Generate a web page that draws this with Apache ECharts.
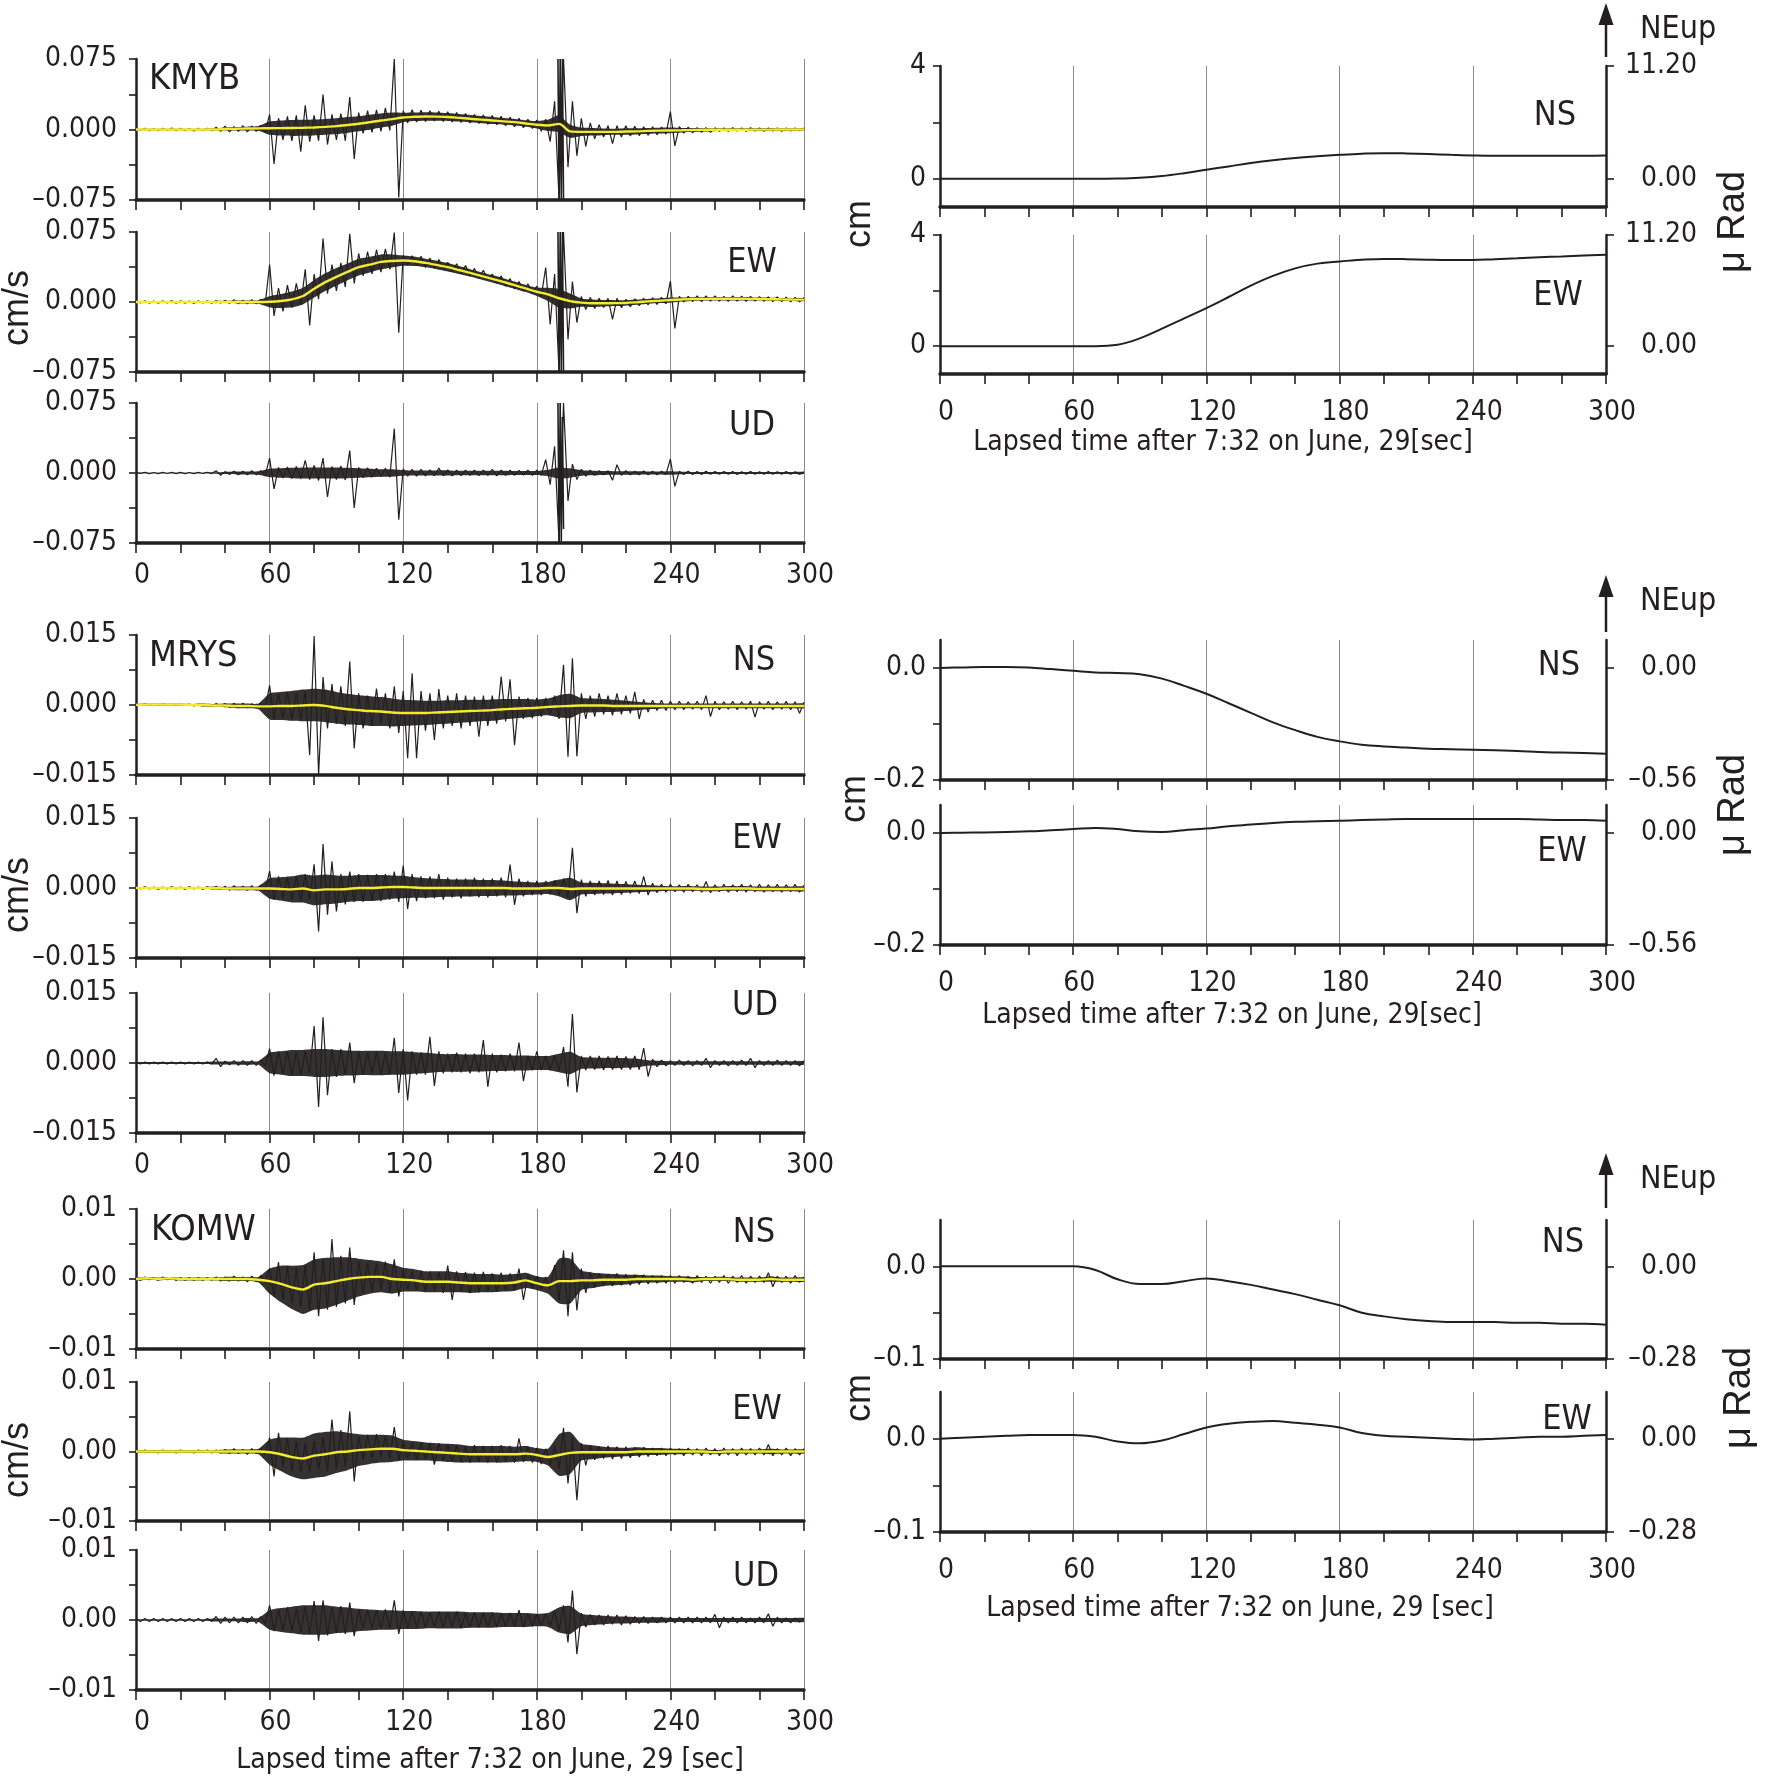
<!DOCTYPE html>
<html><head><meta charset="utf-8">
<script src="https://cdn.jsdelivr.net/npm/echarts/dist/echarts.min.js"></script>
<style>html,body{margin:0;padding:0;background:#fff}#c{width:1773px;height:1778px}</style>
</head><body><div id="c"></div><script>
// ---------- DATA ----------
// Velocity traces: values in 1e-4 cm/s, sampled every 2 s from 0 to 300 s
const UNIT = 1e-4;
const KMYB_NS_V = [12,-10,14,-12,10,-14,12,-10,15,-12,
12,-12,10,-15,14,-10,12,-14,25,-20,
35,-25,30,-20,40,-25,35,-20,45,-25,
160,-367,120,-110,140,-120,150,-235,257,-130,
150,-120,371,-160,160,-110,170,-120,345,-314,
180,-40,200,-30,210,-20,230,-10,750,-724,
200,70,210,80,205,85,200,90,195,85,
190,80,180,75,170,70,160,65,155,55,
150,50,140,40,130,30,120,20,110,10,
100,-20,110,-130,300,-750,750,-400,300,-280,
120,-180,70,-100,50,-80,40,-150,40,-80,
40,-70,35,-65,30,-60,30,-55,25,-50,
190,-175,30,-40,25,-35,20,-30,20,-30,
18,-20,15,-18,18,-15,15,-20,18,-15,
16,-18,15,-15,16,-18,15,-15,16,-14,
15];
const KMYB_EW_V = [12,-10,14,-12,10,-14,12,-10,15,-12,
12,-12,10,-15,14,-10,12,-14,15,-12,
20,-15,25,-20,20,-18,25,-20,30,-25,
400,-150,150,-100,180,-60,200,-30,350,-250,
300,30,680,90,400,120,420,160,730,200,
520,280,540,300,560,320,570,350,745,-330,
500,395,495,390,490,370,470,360,455,350,
425,325,410,305,390,280,360,255,340,235,
300,200,280,170,250,140,220,115,195,95,
170,60,370,-240,300,-750,750,-400,220,-220,
60,-80,50,-70,40,-60,40,-185,40,-60,
30,-50,35,-40,40,-30,45,-25,50,-20,
224,-284,60,0,60,5,65,5,65,10,
65,10,60,8,65,10,62,8,60,10,
58,8,55,5,55,5,52,3,50,2,
48];
const KMYB_UD_V = [6,-5,7,-6,5,-7,6,-5,7,-6,
6,-6,5,-7,7,-5,6,-6,25,-25,
15,-15,20,-18,20,-20,25,-20,25,-25,
160,-171,60,-55,65,-60,70,-60,135,-70,
80,-80,160,-257,70,-70,75,-75,240,-375,
60,-50,55,-45,50,-40,50,-45,475,-500,
45,-35,40,-35,40,-30,35,-30,54,-30,
35,-30,30,-28,30,-25,30,-28,30,-25,
40,-30,30,-25,30,-25,28,-22,30,-25,
30,-25,143,-125,285,-750,750,-300,96,-71,
40,-35,30,-25,25,-20,25,-78,89,-25,
25,-20,20,-20,22,-18,20,-18,20,-15,
150,-143,20,-15,18,-15,15,-15,18,-14,
15,-14,15,-12,16,-15,14,-12,15,-14,
14,-12,15,-14,13,-12,15,-12,14,-13,
12];
// saturated burst at KMYB around 189-192 s (every 0.5 s), 1e-4 cm/s
const T_BURST = [189.5,190,190.5,191,191.5,192];
const KMYB_NS_BURST = [750,-750,750,-750,750,-750];
const KMYB_EW_BURST = [750,-750,750,-750,750,-750];
const KMYB_UD_BURST = [750,-750,750,-750,600,-600];
const MRYS_NS_V = [2,-1,3,0,2,-1,3,0,2,-1,
2,-1,2,-2,2,-2,1,-3,3,-3,
3,-5,4,-6,4,-6,3,-7,4,-7,
42,-30,25,-28,27,-30,25,-32,30,-107,
148,-150,60,-50,45,-40,40,-45,93,-93,
25,-50,20,-45,35,-40,25,-50,40,-60,
30,-114,68,-114,30,-55,25,-75,34,-50,
20,-45,25,-50,20,-45,18,-68,20,-45,
20,-40,61,-35,55,-86,18,-30,15,-28,
15,-25,15,-20,20,-30,86,-111,100,-110,
25,-30,20,-25,25,-20,20,-22,25,-20,
20,-18,28,-30,12,-15,10,-12,10,-12,
8,-10,8,-10,7,-9,8,-10,20,-25,
8,-10,7,-9,8,-10,7,-9,8,-26,
7,-9,8,-10,7,-9,8,-10,7,-18,
6];
const MRYS_EW_V = [2,-2,3,-2,2,-3,2,-2,3,-2,
2,-3,3,-2,2,-3,3,-2,4,-3,
4,-5,5,-4,4,-5,5,-5,6,-6,
36,-25,25,-22,22,-25,25,-28,30,-25,
51,-93,94,-57,57,-50,30,-35,35,-30,
30,-30,28,-25,30,-28,30,-25,35,-30,
48,-45,30,-28,25,-22,25,-22,30,-25,
22,-20,20,-22,20,-18,22,-20,20,-20,
20,-18,22,-20,50,-36,20,-18,15,-15,
15,-15,15,-14,16,-15,20,-20,86,-54,
18,-18,15,-15,15,-14,16,-15,15,-14,
14,-12,15,-12,25,-15,10,-10,8,-9,
8,-8,7,-9,8,-8,7,-9,14,-10,
7,-8,8,-9,7,-8,8,-9,7,-8,
8,-9,7,-8,8,-9,7,-8,8,-9,
6];
const MRYS_UD_V = [2,-2,2,-2,2,-2,2,-2,2,-2,
2,-2,2,-2,2,-2,2,-2,10,-8,
4,-4,5,-5,5,-5,5,-5,6,-6,
31,-27,25,-22,25,-25,22,-25,25,-22,
79,-94,98,-69,30,-30,30,-25,44,-43,
25,-25,22,-22,25,-25,22,-25,54,-64,
30,-80,25,-25,22,-25,56,-49,25,-22,
20,-20,22,-20,20,-22,20,-20,49,-51,
20,-20,18,-18,20,-18,44,-39,15,-15,
25,-15,15,-15,15,-15,34,-51,105,-63,
15,-15,15,-14,15,-15,14,-14,15,-14,
14,-14,15,-14,32,-29,8,-8,6,-6,
5,-5,6,-5,5,-6,5,-5,10,-10,
5,-5,5,-6,5,-5,6,-5,10,-10,
5,-5,5,-5,6,-5,5,-5,5,-6,
5];
const KOMW_NS_V = [2,-2,3,-1,2,-2,3,-1,2,-2,
2,-2,2,-2,2,-2,2,-2,3,-3,
3,-3,4,-3,3,-4,4,-4,5,-5,
15,-25,24,-30,18,-35,15,-40,20,-45,
38,-53,30,-44,57,-40,33,-35,45,-37,
25,-20,23,-18,22,-15,25,-20,28,-25,
12,-15,11,-16,12,-18,11,-17,10,-20,
19,-30,11,-18,10,-20,9,-19,10,-18,
8,-18,9,-17,8,-16,15,-30,6,-14,
4,-14,3,-15,20,-30,41,-53,38,-45,
15,-20,10,-12,8,-10,7,-10,8,-9,
7,-9,6,-8,6,-7,5,-6,5,-6,
5,-6,5,-5,4,-6,5,-5,4,-6,
4,-5,5,-6,4,-5,5,-6,4,-5,
4,-5,9,-11,4,-5,4,-6,5,-5,
3];
const KOMW_EW_V = [1,-1,2,-1,1,-2,2,-1,1,-2,
2,-1,1,-2,2,-1,2,-2,2,-2,
3,-3,4,-3,3,-4,4,-3,4,-4,
20,-36,27,-22,19,-28,15,-30,12,-30,
15,-26,20,-29,46,-25,31,-22,58,-43,
22,-12,24,-10,25,-8,22,-10,35,-12,
14,-10,12,-12,13,-11,12,-19,12,-13,
10,-14,9,-15,8,-16,9,-15,8,-16,
8,-16,9,-15,8,-16,19,-15,7,-16,
5,-18,4,-20,8,-25,34,-46,20,-70,
12,-20,8,-12,7,-10,8,-11,7,-10,
7,-9,6,-8,6,-7,5,-6,5,-6,
5,-5,4,-6,5,-5,4,-6,5,-5,
4,-6,5,-5,4,-6,5,-5,4,-5,
5,-5,10,-6,4,-5,5,-6,4,-5,
4];
const KOMW_UD_V = [2,-2,2,-2,2,-2,2,-2,2,-2,
2,-2,2,-2,2,-2,2,-2,5,-5,
4,-4,4,-4,4,-4,5,-5,5,-5,
21,-16,15,-15,18,-16,16,-18,20,-20,
27,-30,28,-22,18,-18,20,-20,25,-23,
15,-12,14,-12,14,-12,15,-12,28,-20,
14,-12,12,-10,12,-10,11,-10,12,-10,
11,-10,12,-12,10,-10,11,-10,10,-10,
10,-10,9,-9,10,-9,14,-10,9,-9,
8,-8,9,-8,12,-15,21,-32,42,-49,
10,-10,8,-7,7,-7,7,-6,7,-7,
6,-6,5,-5,5,-5,4,-4,4,-4,
4,-4,4,-4,4,-4,4,-4,4,-4,
8,-11,4,-4,4,-4,4,-4,3,-4,
4,-4,9,-9,4,-4,3,-4,3,-3,
3];

// Low-pass (yellow) traces: 1e-4 cm/s, every 5 s
const KMYB_NS_Y = [0,0,0,0,0,0,0,0,5,8,10,12,14,15,16,18,22,28,36,48,61,78,96,110,128,135,139,137,133,124,114,105,96,87,78,64,50,43,60,-20,-25,-25,-25,-25,-22,-20,-15,-12,-10,-8,-5,-3,-3,-2,-2,-2,-1,-1,0,0,0];
const KMYB_EW_Y = [0,0,0,0,0,0,0,0,0,0,0,0,2,10,28,64,142,213,270,323,373,400,430,440,444,437,419,397,373,343,312,280,248,215,181,145,110,82,40,10,-7,-14,-14,-12,-10,-2,7,14,21,27,32,34,35,35,35,34,32,30,28,26,25];
const MRYS_NS_Y = [0,1,1,1,1,0,0,-1,-1,-2,-2,-3,-3,-2,-2,-1,0,-2,-6,-9,-11,-13,-14,-16,-17,-17,-17,-16,-15,-14,-13,-12,-11,-9,-8,-7,-6,-4,-3,-2,-1,-1,-1,-2,-2,-2,-2,-2,-2,-2,-2,-2,-2,-2,-2,-2,-2,-2,-2,-2,-2];
const MRYS_EW_Y = [0,0,0,0,0,0,0,0,-1,-1,-1,-1,-1,-2,-3,-1,-5,-3,-3,-2,0,0,1,2,2,1,0,0,0,0,0,0,0,0,-1,-1,-1,0,0,-2,-1,-1,-1,-1,-1,-1,-1,-1,-1,-1,-1,-2,-2,-1,-1,-1,-2,-2,-2,-2,-2];
const KOMW_NS_Y = [0,1,0,1,0,0,0,0,0,0,0,-1,-3,-7,-12,-15,-8,-6,-3,0,2,3,3,0,-1,-2,-4,-4,-4,-5,-6,-6,-6,-6,-5,-2,-6,-9,-3,-3,-2,-2,-1,-1,-1,0,0,0,0,0,-1,0,0,0,-1,-1,-1,0,-1,-1,-1];
const KOMW_EW_Y = [0,0,0,0,0,0,0,0,0,0,0,0,-1,-4,-8,-10,-6,-4,-1,0,2,3,4,4,2,1,0,-1,-2,-3,-4,-4,-4,-4,-4,-3,-5,-8,-5,-2,-1,-1,-1,-1,-1,0,0,0,0,0,0,0,-1,0,0,0,0,0,0,0,0];

// Dense-noise band half-widths around the trend (UD: around 0), 1e-4 cm/s, every 5 s
const KMYB_NS_B = [8,8,8,8,8,8,8,12,15,18,20,25,70,80,85,85,85,85,85,85,80,80,75,70,50,45,45,45,42,40,40,38,38,36,35,35,40,60,90,70,45,40,35,32,35,32,30,30,30,25,20,18,15,15,15,15,15,15,15,15,15];
const KMYB_EW_B = [8,8,8,8,8,8,8,12,12,15,15,20,60,75,85,90,95,95,95,90,90,85,80,70,55,50,45,45,45,42,40,40,40,40,38,38,45,70,100,80,45,40,35,32,30,28,25,25,28,22,20,18,18,18,18,18,16,16,16,16,16];
const KMYB_UD_B = [4,4,4,4,4,4,4,8,12,15,15,18,45,50,55,60,60,60,60,55,50,45,40,40,30,28,28,28,28,25,25,25,25,25,22,22,22,35,60,50,30,25,22,20,18,18,16,16,20,14,12,12,12,12,12,12,12,12,12,12,12];
const MRYS_NS_B = [2,2,2,2,2,2,3,3,4,5,5,6,28,30,32,34,35,35,34,33,32,32,31,30,28,27,26,25,25,24,24,23,23,22,21,20,18,18,24,26,16,15,14,13,11,9,7,6,5,5,5,5,5,5,5,5,5,5,5,5,5];
const MRYS_EW_B = [2,2,2,2,2,2,2,3,3,4,4,5,22,25,28,30,32,32,30,28,28,28,27,25,24,22,21,20,19,18,18,17,17,16,15,14,13,13,18,24,13,12,11,10,9,8,7,6,5,5,5,5,5,5,5,5,5,5,5,5,5];
const MRYS_UD_B = [2,2,2,2,2,2,2,3,3,3,4,4,22,25,28,28,30,30,28,27,26,26,26,25,25,23,22,20,19,19,18,18,17,17,16,16,15,15,20,24,13,12,11,11,10,9,6,5,4,4,4,4,4,4,4,4,4,4,4,4,4];
const KOMW_NS_B = [2,2,2,2,2,2,2,2,3,3,3,4,18,26,31,35,36,36,34,31,27,24,22,21,17,16,15,15,15,14,14,13,13,12,12,11,10,12,32,32,14,11,9,8,7,6,5,5,4,4,4,3,3,3,3,3,3,4,3,3,3];
const KOMW_EW_B = [2,2,2,2,2,2,2,2,3,3,3,4,18,24,28,30,32,32,30,27,23,21,20,19,15,14,13,13,13,13,12,12,12,12,11,11,10,12,30,30,12,10,8,7,6,6,5,5,4,4,3,3,3,3,3,3,3,4,3,3,3];
const KOMW_UD_B = [1,1,1,1,1,1,1,2,2,2,3,3,14,17,19,21,21,21,19,18,16,15,14,14,13,13,12,12,12,12,11,11,11,10,10,10,9,10,18,20,9,7,6,5,5,4,4,4,3,3,3,3,3,3,3,3,3,3,3,3,3];

// Tilt / displacement traces (cm), every 10 s
const KMYB_NS_TILT = [0,0,0,0,0,0,0,0,0.01,0.04,0.1,0.2,0.32,0.44,0.56,0.66,0.74,0.8,0.85,0.89,0.91,0.9,0.88,0.85,0.83,0.82,0.82,0.82,0.82,0.82,0.83];
const KMYB_EW_TILT = [0,0,0,0,0,0,0,0,0.05,0.28,0.63,1.0,1.37,1.77,2.18,2.53,2.8,2.97,3.05,3.11,3.14,3.13,3.11,3.1,3.1,3.13,3.16,3.2,3.23,3.26,3.29];
const MRYS_NS_TILT = [0,0.001,0.002,0.002,0.001,-0.002,-0.005,-0.008,-0.009,-0.011,-0.019,-0.032,-0.046,-0.063,-0.08,-0.097,-0.111,-0.123,-0.131,-0.137,-0.14,-0.142,-0.144,-0.145,-0.146,-0.147,-0.148,-0.15,-0.151,-0.152,-0.153];
const MRYS_EW_TILT = [0,0.0005,0.001,0.002,0.003,0.005,0.007,0.009,0.007,0.003,0.002,0.005,0.008,0.012,0.015,0.018,0.02,0.021,0.022,0.023,0.024,0.025,0.025,0.025,0.025,0.025,0.025,0.024,0.023,0.023,0.022];
const KOMW_NS_TILT = [0,0,0,0,0,0,0,-0.004,-0.014,-0.019,-0.019,-0.016,-0.013,-0.016,-0.02,-0.025,-0.03,-0.036,-0.042,-0.05,-0.054,-0.057,-0.059,-0.06,-0.06,-0.06,-0.061,-0.061,-0.062,-0.062,-0.063];
const KOMW_EW_TILT = [0,0.001,0.002,0.003,0.004,0.004,0.004,0.002,-0.003,-0.005,-0.002,0.005,0.012,0.016,0.018,0.019,0.017,0.015,0.012,0.006,0.003,0.002,0.001,0,-0.001,0,0.001,0.002,0.002,0.003,0.004];

// sample times
const T_V = Array.from({length:151},(_, i)=>i*2);
const T_Y = Array.from({length:61},(_, i)=>i*5);
const T_TILT = Array.from({length:31},(_, i)=>i*10);

const STATIONS = ['KMYB','MRYS','KOMW'];
const XLABEL_L = 'Lapsed time after 7:32 on June, 29 [sec]';
const XLABEL_R = ['Lapsed time after 7:32 on June, 29[sec]','Lapsed time after 7:32 on June, 29[sec]','Lapsed time after 7:32 on June, 29 [sec]'];

// ---------- LAYOUT / STYLE ----------
const INK = '#231f20', GRIDC = '#8a8c8f', YEL = '#f4ec2a';
const FN = "'Liberation Sans Narrow','Arial Narrow','DejaVu Sans Condensed','Roboto Condensed',sans-serif";
const FR = "'Liberation Sans',Arial,'Noto Sans',sans-serif";
const TICK_FS = 28;
const L_LEFT = 136, L_W = 668;
const L_TOP = [59,232,403,635,818,993,1209,1382,1550];
const L_H = [141,140,140,140,140,140,140,139,140];
const R_LEFT = 940, R_W = 666;
const R_TOP = [66,235,640,805,1220,1392];
const R_H = [141,139,140,140,139,140];

const LEFT_DEF = [
  {v:KMYB_NS_V, y:KMYB_NS_Y, b:KMYB_NS_B, burst:KMYB_NS_BURST, lim:0.075, dec:3, xl:false},
  {v:KMYB_EW_V, y:KMYB_EW_Y, b:KMYB_EW_B, burst:KMYB_EW_BURST, lim:0.075, dec:3, xl:false},
  {v:KMYB_UD_V, y:null,      b:KMYB_UD_B, burst:KMYB_UD_BURST, lim:0.075, dec:3, xl:true},
  {v:MRYS_NS_V, y:MRYS_NS_Y, b:MRYS_NS_B, lim:0.015, dec:3, xl:false},
  {v:MRYS_EW_V, y:MRYS_EW_Y, b:MRYS_EW_B, lim:0.015, dec:3, xl:false},
  {v:MRYS_UD_V, y:null,      b:MRYS_UD_B, lim:0.015, dec:3, xl:true},
  {v:KOMW_NS_V, y:KOMW_NS_Y, b:KOMW_NS_B, lim:0.01, dec:2, xl:false},
  {v:KOMW_EW_V, y:KOMW_EW_Y, b:KOMW_EW_B, lim:0.01, dec:2, xl:false},
  {v:KOMW_UD_V, y:null,      b:KOMW_UD_B, lim:0.01, dec:2, xl:true}
];
const RIGHT_DEF = [
  {v:KMYB_NS_TILT, lo:-1, hi:4, lab:[0,4], tick:[0,2,4], dec:0, rlo:-2.8, rhi:11.2, rlab:[0,11.2], xl:false},
  {v:KMYB_EW_TILT, lo:-1, hi:4, lab:[0,4], tick:[0,2,4], dec:0, rlo:-2.8, rhi:11.2, rlab:[0,11.2], xl:true},
  {v:MRYS_NS_TILT, lo:-0.2, hi:0.05, lab:[-0.2,0], tick:[-0.2,-0.1,0], dec:1, rlo:-0.56, rhi:0.14, rlab:[-0.56,0], xl:false},
  {v:MRYS_EW_TILT, lo:-0.2, hi:0.05, lab:[-0.2,0], tick:[-0.2,-0.1,0], dec:1, rlo:-0.56, rhi:0.14, rlab:[-0.56,0], xl:true},
  {v:KOMW_NS_TILT, lo:-0.1, hi:0.05, lab:[-0.1,0], tick:[-0.1,-0.05,0], dec:1, rlo:-0.28, rhi:0.14, rlab:[-0.28,0], xl:false},
  {v:KOMW_EW_TILT, lo:-0.1, hi:0.05, lab:[-0.1,0], tick:[-0.1,-0.05,0], dec:1, rlo:-0.28, rhi:0.14, rlab:[-0.28,0], xl:true}
];

const grid=[], xAxis=[], yAxis=[], series=[], graphic=[];
const fmt = (v,d)=> (Math.abs(v)<1e-12?0:v).toFixed(d).replace('-','\u2013');
const near = (v,arr)=> arr.some(a=>Math.abs(a-v)<1e-9);

function addGrid(left, top, width, height, xl, labMargin){
  const gi = grid.length;
  grid.push({left, top, width, height});
  const xi = xAxis.length;
  xAxis.push({gridIndex:gi, type:'value', min:0, max:300, interval:20, position:'bottom',
    axisLine:{show:true, onZero:false, lineStyle:{color:INK, width:3.5}},
    axisTick:{show:true, length:10, lineStyle:{color:INK, width:1.6}},
    axisLabel:{show:xl, margin:labMargin, padding:[0,0,0,12], fontSize:TICK_FS, fontFamily:FN, color:INK,
      formatter:v=>(Math.round(v)%60===0?String(Math.round(v)):'')},
    splitLine:{show:false}, z:5});
  xAxis.push({gridIndex:gi, type:'value', min:0, max:300, interval:60, position:'top',
    axisLine:{show:false}, axisTick:{show:false}, axisLabel:{show:false},
    splitLine:{show:true, lineStyle:{color:GRIDC, width:1}}});
  return {gi, xi};
}

LEFT_DEF.forEach((p,k)=>{
  const {gi, xi} = addGrid(L_LEFT, L_TOP[k], L_W, L_H[k], p.xl, 19);
  const yi = yAxis.length;
  yAxis.push({gridIndex:gi, type:'value', min:-p.lim, max:p.lim, interval:p.lim/2, position:'left',
    axisLine:{show:true, onZero:false, lineStyle:{color:INK, width:2.5}},
    axisTick:{show:true, length:7, lineStyle:{color:INK, width:1.6}},
    axisLabel:{margin:19, fontSize:TICK_FS, fontFamily:FN, color:INK,
      formatter:v=> near(v,[-p.lim,0,p.lim]) ? fmt(v,p.dec) : ''},
    splitLine:{show:false}});
  // dense-noise band (polygon through the library's coordinate system)
  series.push({type:'custom', xAxisIndex:xi, yAxisIndex:yi, data:[[0,0]], clip:true, silent:true,
    animation:false, z:1,
    renderItem:(params, api)=>{
      const up=[], dn=[];
      T_Y.forEach((t,i)=>{
        const c = p.y ? p.y[i] : 0;
        up.push(api.coord([t,(c+p.b[i])*UNIT]));
        dn.push(api.coord([t,(c-p.b[i])*UNIT]));
      });
      return {type:'polygon', shape:{points:up.concat(dn.reverse()), smooth:0.2},
        style:{fill:INK, opacity:0.92}};
    }});
  series.push({type:'line', xAxisIndex:xi, yAxisIndex:yi, data:T_V.map((t,i)=>[t, p.v[i]*UNIT]),
    symbol:'none', lineStyle:{color:INK, width:1.2}, animation:false, silent:true, z:2});
  if (p.burst) series.push({type:'line', xAxisIndex:xi, yAxisIndex:yi, data:T_BURST.map((t,i)=>[t, p.burst[i]*UNIT]),
    symbol:'none', lineStyle:{color:INK, width:1.6}, animation:false, silent:true, z:2});
  if (p.y) series.push({type:'line', xAxisIndex:xi, yAxisIndex:yi, data:T_Y.map((t,i)=>[t, p.y[i]*UNIT]),
    symbol:'none', smooth:0.3, lineStyle:{color:YEL, width:2.4}, animation:false, silent:true, z:3});
});

RIGHT_DEF.forEach((p,k)=>{
  const {gi, xi} = addGrid(R_LEFT, R_TOP[k], R_W, R_H[k], p.xl, 25);
  const yi = yAxis.length;
  yAxis.push({gridIndex:gi, type:'value', min:p.lo, max:p.hi, position:'left',
    axisLine:{show:true, onZero:false, lineStyle:{color:INK, width:2.5}},
    axisTick:{show:true, length:7, customValues:p.tick, lineStyle:{color:INK, width:1.6}},
    axisLabel:{margin:14, fontSize:TICK_FS, fontFamily:FN, color:INK, customValues:p.lab,
      formatter:v=> near(v,p.lab) ? fmt(v,p.dec) : ''},
    splitLine:{show:false}});
  yAxis.push({gridIndex:gi, type:'value', min:p.rlo, max:p.rhi, position:'right',
    axisLine:{show:true, onZero:false, lineStyle:{color:INK, width:2.5}},
    axisTick:{show:true, length:8, customValues:p.rlab, lineStyle:{color:INK, width:1.6}},
    axisLabel:{margin:91, align:'right', fontSize:TICK_FS, fontFamily:FN, color:INK, customValues:p.rlab,
      formatter:v=> near(v,p.rlab) ? fmt(v,2) : ''},
    splitLine:{show:false}});
  series.push({type:'line', xAxisIndex:xi, yAxisIndex:yi, data:T_TILT.map((t,i)=>[t, p.v[i]]),
    symbol:'none', smooth:0.4, lineStyle:{color:INK, width:2}, animation:false, silent:true, z:2});
});

// ---------- TEXT / DECORATION ----------
function txt(text, x, y, size, opt){
  opt = opt||{};
  graphic.push({type:'text', x, y, rotation:opt.rot||0, silent:true, z:100,
    style:{text, fill:INK, fontSize:size, fontFamily:opt.font||FN,
      textAlign:opt.align||'center', textVerticalAlign:'middle'}});
}
txt(STATIONS[0], 149, 80, 36, {align:'left'});
txt(STATIONS[1], 149, 657, 36, {align:'left'});
txt(STATIONS[2], 151, 1231, 36, {align:'left'});
[['EW',752,263],['UD',752,426],['NS',754,661],['EW',757,839],['UD',755,1006],['NS',754,1233],['EW',757,1410],['UD',756,1577]]
  .forEach(a=>txt(a[0],a[1],a[2],34));
[['NS',1555,116],['EW',1558,296],['NS',1559,666],['EW',1562,852],['NS',1563,1243],['EW',1567,1420]]
  .forEach(a=>txt(a[0],a[1],a[2],34));
[308,895,1460].forEach(y=>txt('cm/s',18,y,36,{rot:Math.PI/2, font:FR}));
[[860,224],[855,799],[860,1398]].forEach(a=>txt('cm',a[0],a[1],36,{rot:Math.PI/2, font:FR}));
[[1734,222],[1734,805],[1740,1398]].forEach(a=>txt('\u03bc Rad',a[0],a[1],38,{rot:Math.PI/2, font:FR}));
txt(XLABEL_L, 490, 1761, 28);
txt(XLABEL_R[0], 1223, 443, 28);
txt(XLABEL_R[1], 1232, 1016, 28);
txt(XLABEL_R[2], 1240, 1609, 28);
[[3,57],[575,632],[1153,1208]].forEach(a=>{
  const tip=a[0], base=a[1];
  graphic.push({type:'line', silent:true, z:100, shape:{x1:1606,y1:base,x2:1606,y2:tip+16}, style:{stroke:INK, lineWidth:2.5}});
  graphic.push({type:'polygon', silent:true, z:100, shape:{points:[[1598.5,tip+22],[1613.5,tip+22],[1606,tip]]}, style:{fill:INK}});
  txt('NEup', 1640, tip+27, 32, {align:'left'});
});

const chart = echarts.init(document.getElementById('c'), null, {renderer:'canvas', width:1773, height:1778});
chart.setOption({backgroundColor:'#fff', animation:false, grid, xAxis, yAxis, series, graphic});
</script></body></html>
